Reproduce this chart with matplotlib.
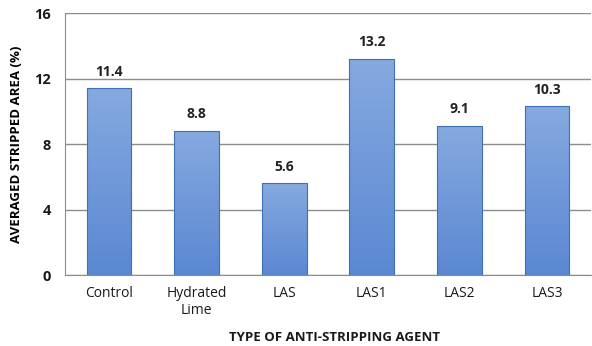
import numpy as np
import matplotlib
matplotlib.use("Agg")
import matplotlib.pyplot as plt
from matplotlib.colors import LinearSegmentedColormap

categories = ["Control", "Hydrated\nLime", "LAS", "LAS1", "LAS2", "LAS3"]
values = [11.4, 8.8, 5.6, 13.2, 9.1, 10.3]
yticks = [0, 4, 8, 12, 16]

plt.rcParams["font.family"] = ["Open Sans", "DejaVu Sans"]

fig = plt.figure(figsize=(5.92, 3.46), dpi=100)
ax = fig.add_axes([0.110, 0.205, 0.888, 0.757])

x = np.arange(len(categories))
bars = ax.bar(x, values, width=0.51, color="none", edgecolor="#3f6fb5", linewidth=0.8, zorder=3)

# vertical gradient fill, lighter on top
cmap = LinearSegmentedColormap.from_list("blu", ["#5a88d2", "#86a9e0"])
grad = np.linspace(0, 1, 256).reshape(-1, 1)
for b in bars:
    bx, bw, bh = b.get_x(), b.get_width(), b.get_height()
    im = ax.imshow(grad, cmap=cmap, origin="lower", aspect="auto",
                   extent=(bx, bx + bw, 0, bh), zorder=2)
    im.set_clip_path(b)

for xi, v in zip(x, values):
    ax.text(xi, v + 0.6, f"{v:.1f}", ha="center", va="bottom",
            fontsize=10, fontweight="bold", color="#222222")

ax.set_xlim(-0.5, len(categories) - 0.5)
ax.set_ylim(0, 16)
ax.set_yticks(yticks)
ax.set_yticklabels([str(t) for t in yticks], fontweight="bold", fontsize=10.5)
ax.set_xticks(x)
ax.set_xticklabels(categories, fontsize=10)
ax.tick_params(axis="both", length=0, colors="#1a1a1a")
ax.tick_params(axis="x", pad=8)
ax.tick_params(axis="y", pad=10)

ax.yaxis.grid(True, color="#8c8c8c", linewidth=1.0, zorder=0)
ax.set_axisbelow(True)
for s in ["top", "right"]:
    ax.spines[s].set_visible(False)
ax.spines["left"].set_color("#8c8c8c")
ax.spines["bottom"].set_color("#8c8c8c")

fig.text(0.565, 0.025, "TYPE OF ANTI-STRIPPING AGENT", ha="center", va="center",
         fontweight="bold", fontsize=9.5, color="#1a1a1a")
ax.set_ylabel("AVERAGED STRIPPED AREA (%)", fontweight="bold", fontsize=9.5, labelpad=8)

fig.savefig("out.png", dpi=100)
